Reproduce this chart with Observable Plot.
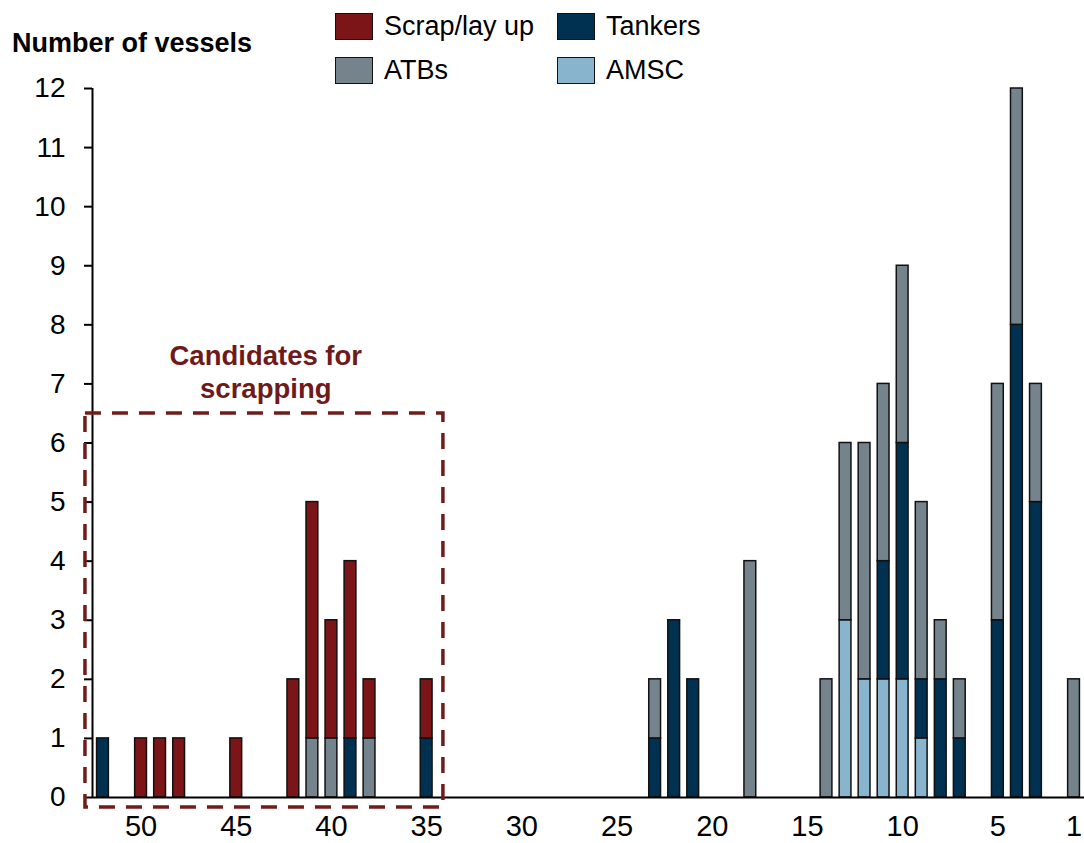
<!DOCTYPE html>
<html>
<head>
<meta charset="utf-8">
<script src="https://cdn.jsdelivr.net/npm/d3@7"></script>
<script src="https://cdn.jsdelivr.net/npm/@observablehq/plot@0.6"></script>
<style>
  body { margin: 0; background: #fff; font-family: "Liberation Sans", Arial, sans-serif; }
  #wrap { position: relative; width: 1084px; height: 843px; }
  #title { position: absolute; left: 12px; top: 28px; font-size: 27px; font-weight: bold; color: #000; white-space: nowrap; }
  .leg { position: absolute; display: flex; align-items: center; font-size: 27px; color: #000; white-space: nowrap; }
  .sw { width: 38px; height: 27px; border: 1.5px solid #111; margin-right: 11px; box-sizing: border-box; }
  #chart { position: absolute; left: 0; top: 0; }
</style>
</head>
<body>
<div id="wrap">
  <div id="chart"></div>
  <div id="title">Number of vessels</div>
  <div id="legend"></div>
</div>
<script>
// ---- data ----
const ages    = [52,50,49,48,45,42,41,40,39,38,35,23,22,21,18,14,13,12,11,10,9,8,7,5,4,3,1];
const amsc    = [ 0, 0, 0, 0, 0, 0, 0, 0, 0, 0, 0, 0, 0, 0, 0, 0, 3, 2, 2, 2,1,0,0,0,0,0,0];
const tankers = [ 1, 0, 0, 0, 0, 0, 0, 0, 1, 0, 1, 1, 3, 2, 0, 0, 0, 0, 2, 4,1,2,1,3,8,5,0];
const atbs    = [ 0, 0, 0, 0, 0, 0, 1, 1, 0, 1, 0, 1, 0, 0, 4, 2, 3, 4, 3, 3,3,1,1,4,4,2,2];
const scrap   = [ 0, 1, 1, 1, 1, 2, 4, 2, 3, 1, 1, 0, 0, 0, 0, 0, 0, 0, 0, 0,0,0,0,0,0,0,0];

const seriesNames  = ["AMSC", "Tankers", "ATBs", "Scrap/lay up"];
const seriesColors = ["#88b4cd", "#003150", "#75848c", "#7b1518"];
const legendOrder  = ["Scrap/lay up", "Tankers", "ATBs", "AMSC"];

const xTicks = [50, 45, 40, 35, 30, 25, 20, 15, 10, 5, 1];
const yTicks = [0,1,2,3,4,5,6,7,8,9,10,11,12];
const xDomain = [52.55, 0.45];
const yDomain = [0, 12];

// annotation (data units)
const noteText = "Candidates for\nscrapping";
const noteAt = {x: 43.45, y: 7.22};
const noteBox = {x1: 52.92, x2: 34.12, y1: -0.17, y2: 6.5};

// ---- build tidy table ----
const seriesValues = [amsc, tankers, atbs, scrap];
const rows = [];
ages.forEach((age, i) => {
  seriesNames.forEach((s, j) => {
    const v = seriesValues[j][i];
    if (v > 0) rows.push({age, series: s, count: v});
  });
});
const halfWidth = 0.31;

const plot = Plot.plot({
  width: 1084,
  height: 843,
  marginLeft: 92,
  marginRight: 0,
  marginTop: 88,
  marginBottom: 46,
  style: {fontFamily: "'Liberation Sans', Arial, sans-serif", background: "white", color: "#000"},
  x: {domain: xDomain, axis: null},
  y: {domain: yDomain, axis: null},
  color: {domain: seriesNames, range: seriesColors},
  marks: [
    Plot.rectY(rows, {
      x1: d => d.age + halfWidth,
      x2: d => d.age - halfWidth,
      y: "count",
      fill: "series",
      stroke: "#111",
      strokeWidth: 1.5,
      order: seriesNames
    }),
    Plot.ruleY([0], {stroke: "#000", strokeWidth: 2}),
    Plot.ruleX([xDomain[0]], {y1: yDomain[0], y2: yDomain[1], stroke: "#000", strokeWidth: 2}),
    Plot.axisY({ticks: yTicks, tickSize: 8, tickPadding: 19, fontSize: 28, tickFormat: d => String(d), stroke: "#000", strokeWidth: 2}),
    Plot.axisX({ticks: xTicks, tickSize: 0, tickPadding: 18, fontSize: 29, tickFormat: d => String(d)}),
    Plot.rect([noteBox], {x1: "x1", x2: "x2", y1: "y1", y2: "y2", fill: "none", stroke: "#701c1a", strokeWidth: 3.5, strokeDasharray: "16 11", clip: false}),
    Plot.text([noteAt], {x: "x", y: "y", text: () => noteText, fontSize: 27.5, fontWeight: "bold", fill: "#6e1a1a", lineHeight: 1.2, textAnchor: "middle"})
  ]
});
document.getElementById("chart").appendChild(plot);

// legend (HTML, above the SVG)
const legPos = {
  "Scrap/lay up": [335, 10],
  "Tankers": [557, 10],
  "ATBs": [335, 54],
  "AMSC": [557, 54]
};
const legend = document.getElementById("legend");
legendOrder.forEach(name => {
  const d = document.createElement("div");
  d.className = "leg";
  d.style.left = legPos[name][0] + "px";
  d.style.top = (legPos[name][1] + 1) + "px";
  const sw = document.createElement("div");
  sw.className = "sw";
  sw.style.background = seriesColors[seriesNames.indexOf(name)];
  const t = document.createElement("span");
  t.textContent = name;
  d.appendChild(sw);
  d.appendChild(t);
  legend.appendChild(d);
});
</script>
</body>
</html>
